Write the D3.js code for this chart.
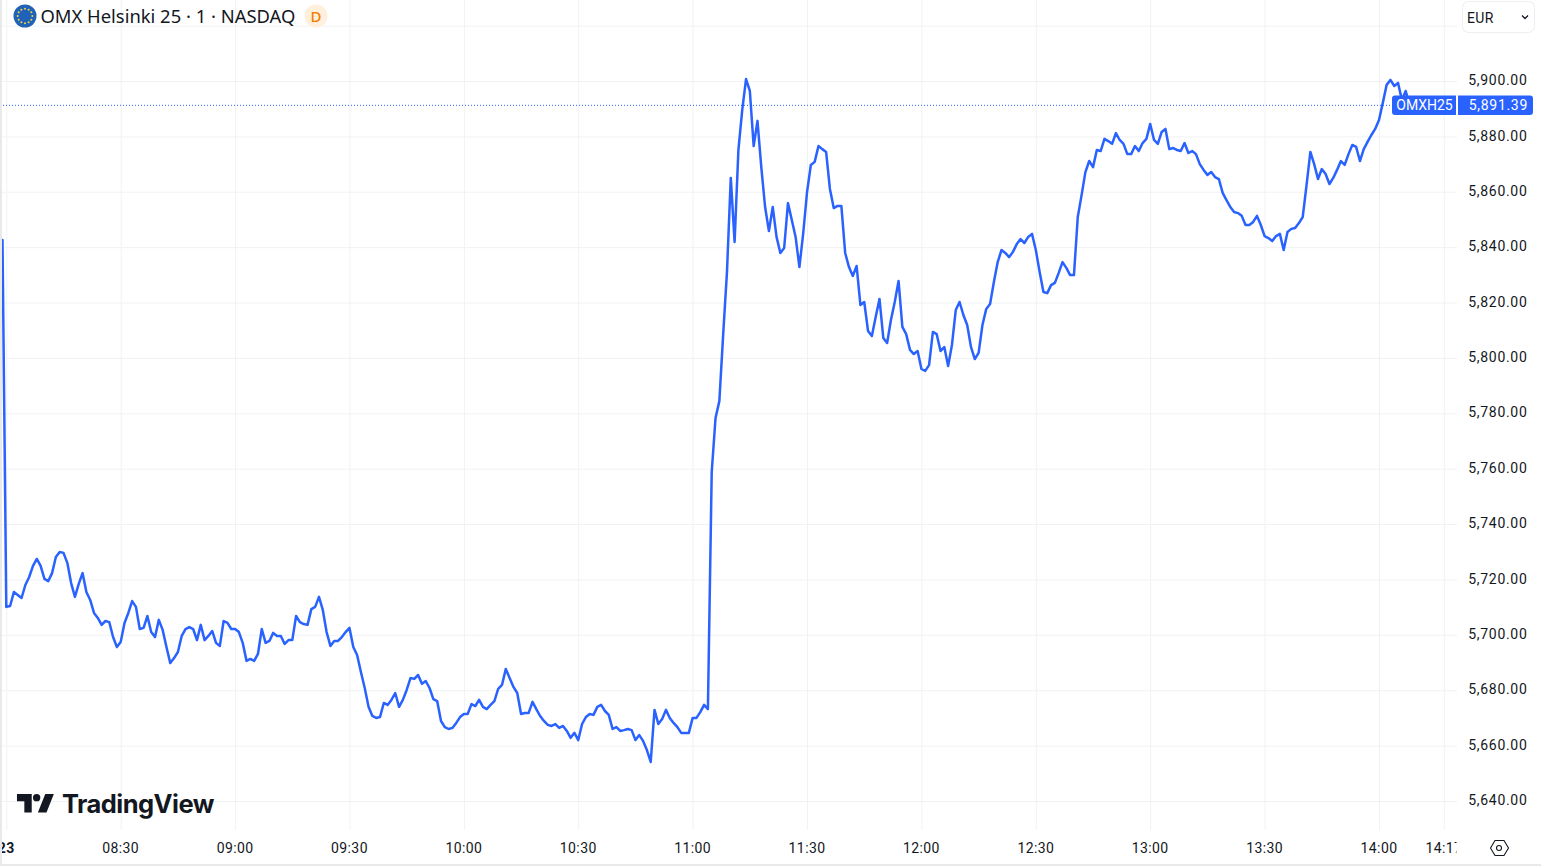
<!DOCTYPE html>
<html><head><meta charset="utf-8">
<script src="https://cdn.jsdelivr.net/npm/d3@7"></script>
<style>html,body{margin:0;padding:0;background:#fff;overflow:hidden}svg{display:block}text{font-family:"Noto Sans",Roboto,sans-serif}</style>
</head><body><svg id="c" width="1541" height="866"></svg>
<script>
const firstMinute = 479; // 07:59, minutes since midnight
const prices = [5842.6,
5710.1,5710.4,5715.5,5714.4,5713.3,5718,5720.9,5724.9,5727.4,5724.9,5720.2,5719.4,5722.3,5728.1,5729.9,5729.6,5726,5718.7,5713.7,5718.4,
5722.3,5715.5,5712.6,5707.9,5706.1,5703.6,5705,5704.6,5699.2,5695.6,5697.4,5704.3,5707.9,5712.2,5710.1,5702.1,5702.5,5706.8,5701,5699.2,
5705.4,5701.8,5695.6,5689.8,5691.6,5693.8,5699.6,5702.1,5702.8,5702.1,5698.1,5703.6,5698.1,5699.6,5701.4,5697.1,5696,5705,5704.3,5702.1,
5702.1,5701,5697.1,5690.6,5691.3,5690.6,5693.1,5702.1,5697.1,5697.8,5700.7,5699.6,5699.6,5696.7,5698.1,5698.1,5706.8,5704.6,5703.9,5703.6,
5709.3,5710.1,5713.7,5709,5701,5696,5697.8,5697.8,5699.2,5701,5702.5,5695.6,5692.7,5686.6,5680.8,5674,5670.7,5670,5670.3,5675.4,
5674.7,5676.5,5679,5674,5676.5,5680.1,5684.4,5684.1,5685.5,5682.3,5683.3,5680.8,5676.8,5676.1,5668.9,5666.7,5666,5666.4,5668.2,5670.3,
5671.4,5671.4,5675,5674.3,5676.5,5674,5673.2,5674.7,5676.1,5680.5,5681.9,5687.7,5684.4,5681.2,5679,5671.4,5671.8,5671.8,5675.8,5673.2,
5670.7,5668.9,5667.5,5667.1,5667.8,5666.4,5667.1,5665.3,5662.8,5664.6,5662,5667.8,5670.3,5671.4,5671.1,5674,5674.7,5672.5,5671.1,5666,
5666.7,5665.3,5665.6,5666,5665.6,5662,5663.8,5661.7,5658.4,5654.1,5672.9,5667.8,5669.6,5672.9,5670,5668.2,5666.7,5664.6,5664.6,5664.6,
5670,5670,5672.1,5674.7,5673.2,5758.8,5778.3,5784.4,5808.3,5831,5865,5841.9,5875.1,5889.5,5900.7,5896.4,5876.5,5885.6,5868.9,5854.5,
5845.8,5854.5,5843.7,5837.9,5839.7,5855.9,5849.8,5843.7,5832.8,5845.1,5859.9,5869.7,5870.8,5876.5,5875.4,5874.4,5861,5854.1,5854.9,5854.9,
5837.9,5832.8,5829.6,5833.2,5819.1,5820.2,5809.7,5807.9,5814.8,5821.3,5807.2,5805.4,5813.7,5820.2,5827.8,5811.2,5808.6,5802.9,5801.4,5802.5,
5796,5795.3,5797.4,5809.4,5808.6,5802.5,5803.9,5797.1,5804.7,5817.3,5820.2,5815.5,5811.9,5803.9,5799.6,5801.8,5811.9,5817.7,5819.5,5827.4,
5834.6,5839,5837.9,5836.4,5838.3,5841.1,5842.9,5841.5,5843.7,5844.8,5839,5831,5823.8,5823.4,5826.3,5827.1,5830.7,5834.6,5832.5,5829.9,
5829.9,5850.9,5858.8,5867.1,5871.1,5868.9,5875.1,5874.7,5879.1,5878.3,5877.3,5881.2,5878.7,5877.3,5873.6,5873.6,5876.5,5874.7,5877.6,5879.1,
5884.5,5878.7,5877.3,5881.6,5882.7,5875.4,5875.8,5875.1,5874.7,5877.6,5874,5874.7,5873.6,5870,5867.9,5866.1,5867.1,5865.3,5864.6,5859.6,
5857,5854.5,5852.7,5852.3,5851.3,5848,5848,5849.1,5851.3,5848,5844,5843.3,5842.2,5844,5844.8,5839,5845.5,5846.6,5846.9,5848.7,
5850.9,5862.4,5874.4,5870,5864.6,5868.2,5866.4,5862.8,5865,5867.9,5871.1,5869.7,5873.6,5876.9,5876.2,5871.1,5875.4,5878,5880.5,5882.7,
5885.9,5892.1,5898.6,5900.4,5898.2,5899.3,5893.1,5896.4,5891.39];
const lastPrice = 5891.39;
const priceLabelTicks = [5640,5660,5680,5700,5720,5740,5760,5780,5800,5820,5840,5860,5880,5900];
const priceGridTicks = priceLabelTicks.concat([5920]);
const timeTicks = [480,510,540,570,600,630,660,690,720,750,780,810,840,857];
const timeLabels = ["23","08:30","09:00","09:30","10:00","10:30","11:00","11:30","12:00","12:30","13:00","13:30","14:00","14:17"];
const titleText = "OMX Helsinki 25 · 1 · NASDAQ";
const symbolText = "OMXH25";
const currencyText = "EUR";

const svg = d3.select("#c");
const W = 1457, H = 830;
const x = d3.scaleLinear().domain([480,840]).range([6.3,1379]);
const y = d3.scaleLinear().domain([5640,5900]).range([801,81]);
const blue = "#2962ff", gridC = "#f1f2f4", ink = "#131722";

const defs = svg.append("defs");
defs.append("clipPath").attr("id","plot").append("rect").attr("x",2).attr("y",0).attr("width",W-2).attr("height",866);

const gx = svg.append("g").attr("transform",`translate(0,${H})`)
  .call(d3.axisBottom(x).tickValues(timeTicks).tickSize(-H).tickFormat(""));
gx.select(".domain").remove();
gx.selectAll("line").attr("stroke",gridC);
const gy = svg.append("g").attr("transform",`translate(${W},0)`)
  .call(d3.axisLeft(y).tickValues(priceGridTicks).tickSize(W).tickFormat(""));
gy.select(".domain").remove();
gy.selectAll("text").remove();
gy.selectAll("line").attr("stroke",gridC).attr("x2",-W);

const logo = svg.append("g");
logo.append("path").attr("transform","translate(14.5,786.6) scale(1.23)")
  .attr("d","M14 6H2v6h6v9h6V6Zm12 15h-7l6-15h7l-6 15Zm-8-9a3 3 0 1 0 0-6 3 3 0 0 0 0 6Z").attr("fill",ink);
logo.append("text").attr("x",62).attr("y",813).attr("font-size",25.5).attr("font-weight",700)
  .style("font-family","Inter").style("letter-spacing","-0.55px").attr("fill",ink).text("TradingView");

svg.append("line").attr("x1",0).attr("x2",1392).attr("y1",y(lastPrice)+.5).attr("y2",y(lastPrice)+.5)
  .attr("stroke",blue).attr("stroke-dasharray","1 2").attr("stroke-width",1);

const line = d3.line().x((d,i)=>x(firstMinute+i)).y(d=>y(d)).curve(d3.curveLinear);
svg.append("path").datum(prices).attr("clip-path","url(#plot)").attr("d",line)
  .attr("fill","none").attr("stroke",blue).attr("stroke-width",2.5).attr("stroke-linejoin","round").attr("stroke-linecap","round");

const yAxis = svg.append("g").attr("transform","translate(1527.5,0)")
  .call(d3.axisLeft(y).tickValues(priceLabelTicks).tickSize(0).tickPadding(0).tickFormat(d3.format(",.2f")));
yAxis.select(".domain").remove();
yAxis.selectAll("text").attr("fill",ink).attr("font-size",14).attr("dy","0.26em").style("font-family","Roboto").style("letter-spacing","0.7px");

const xAxis = svg.append("g").attr("clip-path","url(#plot)").attr("transform","translate(-0.5,830)")
  .call(d3.axisBottom(x).tickValues(timeTicks).tickSize(0).tickPadding(0).tickFormat((d,i)=>timeLabels[i]));
xAxis.select(".domain").remove();
xAxis.selectAll("text").attr("fill",ink).attr("font-size",14).attr("y",23).attr("dy",0).style("font-family","Roboto").style("letter-spacing","0.4px")
  .attr("font-weight",(d,i)=>i===0?700:400);

svg.append("path").attr("d","M1395 95.5h61v19.5h-61a3 3 0 0 1-3-3v-13.5a3 3 0 0 1 3-3z").attr("fill",blue);
svg.append("path").attr("d","M1458 95.5h72a3 3 0 0 1 3 3v13.5a3 3 0 0 1-3 3h-72z").attr("fill",blue);
svg.append("text").attr("x",1424.5).attr("y",110).attr("text-anchor","middle").attr("fill","#fff").attr("font-size",14).style("font-family","Roboto").text(symbolText);
svg.append("text").attr("x",1528).attr("y",110).attr("text-anchor","end").attr("fill","#fff").attr("font-size",14).style("font-family","Roboto").style("letter-spacing","0.7px").text(d3.format(",.2f")(lastPrice));

svg.append("circle").attr("cx",25).attr("cy",16).attr("r",11.5).attr("fill","#1f62b8");
d3.range(12).forEach(i=>{const a=i*Math.PI/6;svg.append("circle").attr("cx",25+7.3*Math.cos(a)).attr("cy",16+7.3*Math.sin(a)).attr("r",1).attr("fill","#f4d53f");});
svg.append("text").attr("x",40.5).attr("y",23).attr("font-size",18.4).attr("fill",ink).text(titleText);
svg.append("circle").attr("cx",316).attr("cy",16).attr("r",11.5).attr("fill","#fff0de");
svg.append("text").attr("x",316).attr("y",21.5).attr("text-anchor","middle").attr("font-size",15).attr("font-weight",500).attr("fill","#f57c00").text("D");

svg.append("rect").attr("x",1462.5).attr("y",1.5).attr("width",72).attr("height",31).attr("rx",6).attr("fill","#fff").attr("stroke","#eceef2");
svg.append("text").attr("x",1467).attr("y",22.5).attr("font-size",14).attr("fill",ink).style("font-family","Roboto").style("letter-spacing","0.3px").text(currencyText);
svg.append("path").attr("d","M1522 15.5l3 3 3-3").attr("fill","none").attr("stroke",ink).attr("stroke-width",1.3);

svg.append("path").attr("d","M1490.5 848l4.5-7.5h9l4.5 7.5-4.5 7.5h-9z").attr("fill","none").attr("stroke",ink).attr("stroke-width",1.1);
svg.append("circle").attr("cx",1499).attr("cy",848).attr("r",2.5).attr("fill","none").attr("stroke",ink).attr("stroke-width",1.1);

svg.append("rect").attr("x",0).attr("y",0).attr("width",2).attr("height",866).attr("fill","#e9e9ea");
svg.append("rect").attr("x",0).attr("y",864).attr("width",1541).attr("height",2).attr("fill","#e9e9ea");
</script></body></html>
